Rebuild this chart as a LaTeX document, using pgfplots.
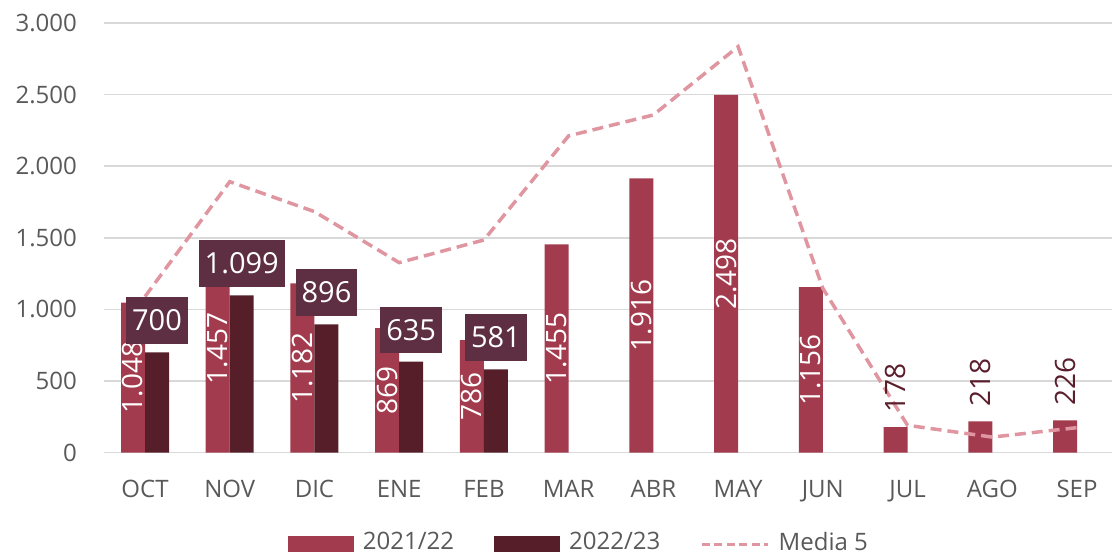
\documentclass[border=0pt]{standalone}
\usepackage{fontspec}
\setmainfont{Open Sans}
\usepackage{pgfplots}
\usepackage{pgfplotstable}
\pgfplotsset{compat=1.18}
\definecolor{barA}{HTML}{A33B4E}
\definecolor{barB}{HTML}{561E29}
\definecolor{boxc}{HTML}{5E2F42}
\definecolor{linec}{HTML}{E096A0}
\definecolor{txt}{HTML}{595959}
\definecolor{gridc}{HTML}{D9D9D9}
\definecolor{labc}{HTML}{5A1E2C}

\pgfplotstableread{
x v
0 1048
1 1457
2 1182
3 869
4 786
5 1455
6 1916
7 2498
8 1156
9 178
10 218
11 226
}\prev
\pgfplotstableread{
x v
0 700
1 1099
2 896
3 635
4 581
}\curr
\pgfplotstableread{
x v
0 1090
1 1892
2 1683
3 1327
4 1485
5 2212
6 2358
7 2835
8 1148
9 191
10 109
11 175
}\media

\begin{document}
\begin{tikzpicture}
\begin{axis}[
  at={(104bp,103.3bp)}, anchor=south west,
  scale only axis, width=1008bp, height=429.7bp,
  xmin=-0.484, xmax=11.413, ymin=0, ymax=3000,
  ytick={0,500,...,3000},
  xtick={0,...,11},
  xticklabels={OCT,NOV,DIC,ENE,FEB,MAR,ABR,MAY,JUN,JUL,AGO,SEP},
  axis line style={draw=none},
  major tick length=0pt,
  ymajorgrids, grid style={gridc, line width=1.5bp},
  tick label style={font=\fontsize{24bp}{28bp}\selectfont, text=txt},
  yticklabel style={anchor=east, inner sep=0pt, xshift=-27bp},
  xticklabel style={anchor=north, inner sep=0pt, yshift=-27bp},
  /pgf/number format/1000 sep={.},
  /pgf/number format/assume math mode=true,
  legend style={at={(0.4702,-0.2372)}, anchor=south, draw=none, fill=none,
    legend columns=-1, font=\fontsize{24bp}{28bp}\selectfont, text=txt,
    nodes={inner sep=0pt, text=txt},
    /tikz/every even column/.append style={column sep=40bp},
    /tikz/every odd column/.append style={column sep=9bp}},
]
\addplot[ybar, bar width=24bp, bar shift=-12bp, fill=barA, draw=none,
  legend image code/.code={\fill[barA] (0bp,-10.5bp) rectangle (66bp,6.1bp);}]
  table[x=x,y=v]{\prev};
\addlegendentry{2021/22}
\addplot[ybar, bar width=24bp, bar shift=12bp, fill=barB, draw=none,
  legend image code/.code={\fill[barB] (0bp,-10.5bp) rectangle (66bp,6.1bp);}]
  table[x=x,y=v]{\curr};
\addlegendentry{2022/23}
\addplot[linec, line width=3.5bp, dash pattern=on 11bp off 6bp, mark=none,
  legend image code/.code={\draw[linec, line width=3.5bp, dash pattern=on 8bp off 4.5bp] (0bp,-2.5bp) -- (66bp,-2.5bp);}]
  table[x=x,y=v]{\media};
\addlegendentry{Media 5}
% centred labels inside the 2021/22 bars
\addplot[draw=none, mark=none, forget plot,
  restrict x to domain=-1:8.5, point meta=explicit,
  nodes near coords={\pgfmathprintnumber[assume math mode=true,1000 sep={.}]{\pgfplotspointmeta}},
  every node near coord/.append style={rotate=90, anchor=center, inner sep=0pt,
    font=\fontsize{28bp}{32bp}\selectfont, text=white}]
  table[x expr=\thisrow{x}-0.14163, y expr=\thisrow{v}/2, meta=v]{\prev};
% labels above the small 2021/22 bars
\addplot[draw=none, mark=none, forget plot,
  restrict x to domain=8.5:12, point meta=explicit,
  nodes near coords={\pgfmathprintnumber[assume math mode=true,1000 sep={.}]{\pgfplotspointmeta}},
  every node near coord/.append style={rotate=90, anchor=west, inner xsep=15bp, inner ysep=0pt,
    font=\fontsize{28bp}{32bp}\selectfont, text=labc}]
  table[x expr=\thisrow{x}-0.14163, y=v, meta=v]{\prev};
% boxed labels for 2022/23
\addplot[draw=none, mark=none, forget plot,
  point meta=explicit,
  nodes near coords={\pgfmathprintnumber[assume math mode=true,1000 sep={.}]{\pgfplotspointmeta}},
  every node near coord/.append style={anchor=south, yshift=8.5bp, fill=boxc,
    inner xsep=6bp, inner ysep=12.5bp,
    font=\fontsize{29bp}{33bp}\selectfont, text=white}]
  table[x expr=\thisrow{x}+0.14163, y=v, meta=v]{\curr};
\end{axis}
\pgfresetboundingbox
\path[use as bounding box] (0,0) rectangle (1112bp,556bp);
\end{tikzpicture}
\end{document}
